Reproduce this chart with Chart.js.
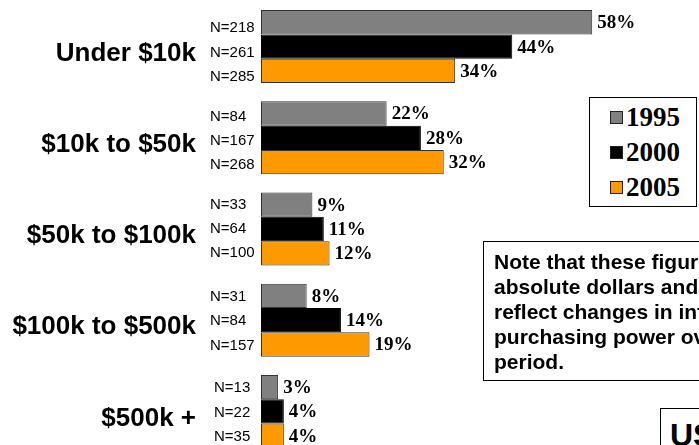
<!DOCTYPE html>
<html>
<head>
<meta charset="utf-8">
<script src="https://cdn.jsdelivr.net/npm/chart.js@4"></script>
<style>
html, body { margin: 0; padding: 0; width: 699px; height: 445px; overflow: hidden; background: #fff; }
#wrap { position: absolute; left: 0; top: 0; width: 699px; height: 457px; }
.box { position: absolute; border: 1px solid #000; background: #fff; box-sizing: border-box; }
#legend { left: 589px; top: 97px; width: 108px; height: 110px; padding: 2px 0 0 20px; }
.item { display: flex; align-items: center; height: 35px; font: bold 27px "Liberation Serif", "Times New Roman", serif; }
.sw { width: 13px; height: 13px; border: 1px solid #222; box-sizing: border-box; margin-right: 3px; }
#note { left: 483px; top: 241px; width: 300px; height: 140px; padding: 7px 0 0 10px;
        font: bold 21px "Liberation Sans", Arial, sans-serif; line-height: 25px; white-space: nowrap; }
#us { left: 660px; top: 408px; width: 100px; height: 60px; padding: 8px 0 0 9px;
      font: bold 32px "Liberation Sans", Arial, sans-serif; }
</style>
</head>
<body>
<div id="wrap"><canvas id="chart"></canvas></div>
<div id="legend" class="box"></div>
<div id="note" class="box">Note that these figures are in<br>absolute dollars and do not<br>reflect changes in inflation or<br>purchasing power over the<br>period.</div>
<div id="us" class="box">USA</div>

<script>
// ── Data ──
const categories = ['Under $10k', '$10k to $50k', '$50k to $100k', '$100k to $500k', '$500k +'];
const years = ['1995', '2000', '2005'];
const share1995 = [58, 22, 9, 8, 3];
const share2000 = [44, 28, 11, 14, 4];
const share2005 = [34, 32, 12, 19, 4];
const n1995 = [218, 84, 33, 31, 13];
const n2000 = [261, 167, 64, 84, 22];
const n2005 = [285, 268, 100, 157, 35];
const fills = ['#808080', '#000000', '#FF9900'];

// ── Legend box ──
const legend = document.getElementById('legend');
years.forEach((y, i) => {
    const row = document.createElement('div');
    row.className = 'item';
    row.innerHTML = `<span class="sw" style="background:${fills[i]}"></span><span>${y}</span>`;
    legend.appendChild(row);
});

// ── Value + N labels ──
// N labels sit a bit low in the upper groups of the original
const nNudge = [6, 3, 0, 1, 1];
const barLabels = {
    id: 'barLabels',
    afterDatasetsDraw(chart) {
        const ctx = chart.ctx;
        ctx.save();
        ctx.fillStyle = '#000';
        ctx.textAlign = 'left';
        ctx.textBaseline = 'middle';
        chart.data.datasets.forEach((ds, i) => {
            chart.getDatasetMeta(i).data.forEach((bar, j) => {
                ctx.font = 'bold 19px "Liberation Serif", "Times New Roman", serif';
                ctx.fillText(ds.data[j] + '%', bar.x + 5, bar.y + 1);
                ctx.font = '15px "Liberation Sans", Arial, sans-serif';
                ctx.fillText('N=' + ds.counts[j], j === 4 ? 214 : 210, bar.y + nNudge[j]);
            });
        });
        ctx.restore();
    }
};

const shares = [share1995, share2000, share2005];
const counts = [n1995, n2000, n2005];

new Chart(document.getElementById('chart'), {
    type: 'bar',
    data: {
        labels: categories,
        datasets: years.map((y, i) => ({
            label: y,
            data: shares[i],
            counts: counts[i],
            backgroundColor: fills[i],
            borderColor: i === 1 ? '#000' : '#333',
            borderWidth: 1,
            borderSkipped: false,
            categoryPercentage: 0.8,
            barPercentage: 1.0,
        }))
    },
    options: {
        indexAxis: 'y',
        responsive: true, maintainAspectRatio: false,
        animation: false,
        layout: { padding: { top: 1, left: 0, right: 0, bottom: 0 } },
        plugins: { legend: { display: false }, tooltip: { enabled: false } },
        scales: {
            x: { display: false, min: 0, max: 76.7 },
            y: {
                grid: { display: false, drawTicks: false },
                border: { display: false },
                ticks: {
                    color: '#000',
                    padding: 65,
                    labelOffset: 7,
                    font: { family: '"Liberation Sans", Arial, sans-serif', size: 26, weight: 'bold' }
                },
                afterFit: s => { s.width = 261; s.paddingTop = 0; s.paddingBottom = 0; }
            }
        }
    },
    plugins: [barLabels]
});
</script>
</body>
</html>
